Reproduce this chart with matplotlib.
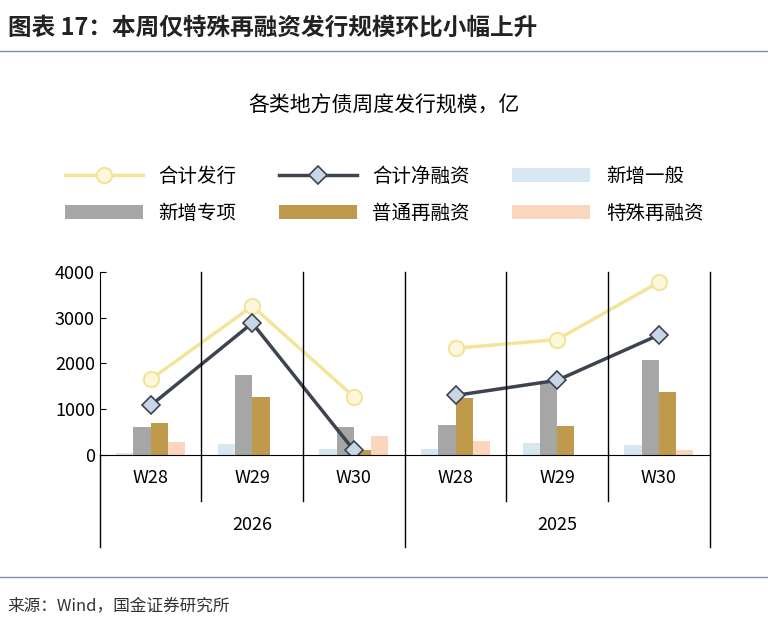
import matplotlib.pyplot as plt
import numpy as np

plt.rcParams['font.family'] = ['Noto Sans CJK SC', 'DejaVu Sans']

weeks = ['W28', 'W29', 'W30', 'W28', 'W29', 'W30']
years = ['2026', '2025']
new_general = [50, 230, 130, 130, 270, 220]
new_special = [600, 1750, 600, 650, 1600, 2070]
refinance = [700, 1270, 100, 1250, 630, 1370]
special_refinance = [280, 0, 420, 300, 0, 100]
total_issue = [1650, 3250, 1270, 2330, 2520, 3770]
net_financing = [1080, 2880, 100, 1300, 1630, 2620]

# Adjust window size
fig = plt.figure(figsize=(7.68, 6.19), dpi=100)
ax = fig.add_axes([0.130, 0.265, 0.794, 0.296])

x = np.arange(len(weeks))
w = 0.17
ax.bar(x - 1.5 * w, new_general, w, color='#d6e7f2', label='新增一般')
ax.bar(x - 0.5 * w, new_special, w, color='#a6a6a6', label='新增专项')
ax.bar(x + 0.5 * w, refinance, w, color='#bf9a4a', label='普通再融资')
ax.bar(x + 1.5 * w, special_refinance, w, color='#fbd6bf', label='特殊再融资')

# Lines are drawn per year group
for s in (slice(0, 3), slice(3, 6)):
    ax.plot(x[s], total_issue[s], color='#f2e59a', lw=2.5, marker='o', ms=11,
            mfc='#fdf8dc', mec='#f2e59a', mew=1.5, label='合计发行' if s.start == 0 else None)
    ax.plot(x[s], net_financing[s], color='#3d4450', lw=2.5, marker='D', ms=9,
            mfc='#c9d6e6', mec='#3d4450', mew=1.2, label='合计净融资' if s.start == 0 else None)

ax.set_xlim(-0.5, 5.5)
ax.set_ylim(0, 4000)
ax.set_yticks([0, 1000, 2000, 3000, 4000])
ax.tick_params(axis='y', labelsize=13, direction='in', length=4)
ax.set_xticks([])
for side in ['top', 'right']:
    ax.spines[side].set_visible(False)

# clean up axes: group separators
for b in [0.5, 1.5, 3.5, 4.5]:
    ax.plot([b, b], [4000, -1000], color='black', lw=1, clip_on=False)
for b in [-0.5, 2.5, 5.5]:
    ax.plot([b, b], [4000 if b != -0.5 else 0, -2000], color='black', lw=1, clip_on=False)
for i, wk in enumerate(weeks):
    ax.text(i, -500, wk, ha='center', va='center', fontsize=13)
ax.text(1, -1520, years[0], ha='center', va='center', fontsize=13)
ax.text(4, -1520, years[1], ha='center', va='center', fontsize=13)

handles, labels = ax.get_legend_handles_labels()
order = [0, 3, 1, 4, 2, 5]
fig.legend([handles[i] for i in order], [labels[i] for i in order],
           loc='upper center', bbox_to_anchor=(0.5, 0.76), ncol=3, frameon=False,
           fontsize=14, handlelength=4, columnspacing=2.2, labelspacing=0.8)

fig.text(0.5, 0.83, '各类地方债周度发行规模，亿', ha='center', va='center', fontsize=15)
fig.text(0.01, 0.955, '图表 17：本周仅特殊再融资发行规模环比小幅上升', ha='left', va='center',
         fontsize=17, fontweight='bold', style='italic', color='#222222')
fig.add_artist(plt.Line2D([0, 1], [0.918, 0.918], color='#7f8fa6', lw=1))
fig.add_artist(plt.Line2D([0, 1], [0.068, 0.068], color='#7f8fa6', lw=1))
fig.text(0.01, 0.022, '来源：Wind，国金证券研究所', ha='left', va='center', fontsize=12, color='#333333')

plt.savefig('out.png', dpi=100)
